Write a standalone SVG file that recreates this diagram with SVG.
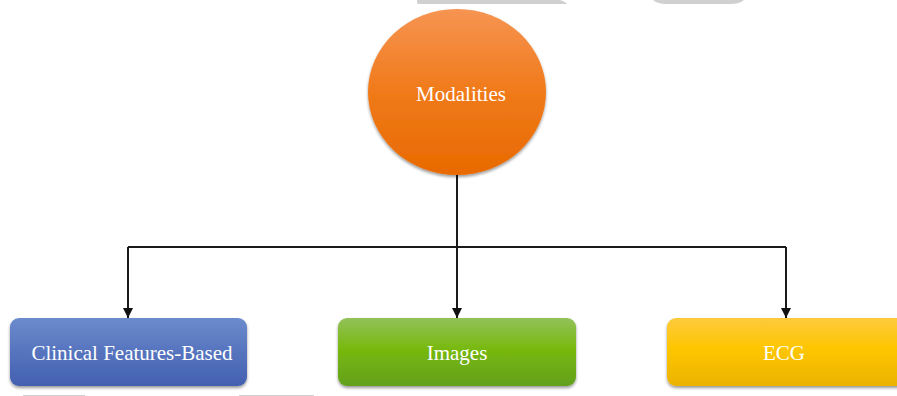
<svg xmlns="http://www.w3.org/2000/svg" width="897" height="396" viewBox="0 0 897 396">
<defs>
<linearGradient id="gOrange" x1="0" y1="0" x2="0" y2="1">
<stop offset="0" stop-color="#f69452"/>
<stop offset="0.5" stop-color="#f07a1a"/>
<stop offset="1" stop-color="#e86a00"/>
</linearGradient>
<linearGradient id="gBlue" x1="0" y1="0" x2="0" y2="1">
<stop offset="0" stop-color="#6c8bcc"/>
<stop offset="0.5" stop-color="#5674be"/>
<stop offset="1" stop-color="#4360b0"/>
</linearGradient>
<linearGradient id="gGreen" x1="0" y1="0" x2="0" y2="1">
<stop offset="0" stop-color="#93c15a"/>
<stop offset="0.45" stop-color="#78b90f"/>
<stop offset="1" stop-color="#63a01c"/>
</linearGradient>
<linearGradient id="gYellow" x1="0" y1="0" x2="0" y2="1">
<stop offset="0" stop-color="#fdca3c"/>
<stop offset="0.45" stop-color="#fec600"/>
<stop offset="1" stop-color="#ebb300"/>
</linearGradient>
<filter id="shadow" x="-10%" y="-10%" width="120%" height="130%">
<feDropShadow dx="0" dy="2" stdDeviation="1.5" flood-color="#000" flood-opacity="0.4"/>
</filter>
<marker id="arrow" viewBox="0 0 10 10" refX="10" refY="5" markerWidth="5.5" markerHeight="5" orient="auto" markerUnits="strokeWidth">
<path d="M0,0 L10,5 L0,10 Z" fill="#111"/>
</marker>
<style>
.lbl{font-family:"Liberation Serif","Times New Roman",serif;font-size:21px;fill:#ffffff;text-anchor:middle}
.conn{fill:none;stroke:#1a1a1a;stroke-width:2}
.frag{fill:#d0d0d0}
.fragline{stroke:#d0d0d0;stroke-width:1.2}
</style>
</defs>
<rect width="897" height="396" fill="#ffffff"/>
<g id="fragments">
<path class="frag" d="M417,0 L560,0 Q566,2 567,4 L419,4 Q417,4 417,2 Z"/>
<path class="frag" d="M653,0 L744,0 Q740,4 730,4 L667,4 Q657,4 653,0 Z"/>
<line class="fragline" x1="23" y1="395.5" x2="85" y2="395.5"/>
<line class="fragline" x1="239" y1="395.5" x2="314" y2="395.5"/>
</g>
<g id="connectors">
<path class="conn" d="M457,175 L457,247"/>
<path class="conn" d="M128,247 L786,247"/>
<path class="conn" d="M128,247 L128,318" marker-end="url(#arrow)"/>
<path class="conn" d="M457,247 L457,318" marker-end="url(#arrow)"/>
<path class="conn" d="M786,247 L786,318" marker-end="url(#arrow)"/>
</g>
<g id="modalities">
<ellipse cx="457" cy="92" rx="89" ry="83" fill="url(#gOrange)" filter="url(#shadow)"/>
<text class="lbl" x="461" y="101">Modalities</text>
</g>
<g id="clinical">
<rect x="10" y="318" width="237" height="68" rx="9" fill="url(#gBlue)" filter="url(#shadow)"/>
<text class="lbl" x="132" y="360">Clinical Features-Based</text>
</g>
<g id="images">
<rect x="338" y="318" width="238" height="68" rx="9" fill="url(#gGreen)" filter="url(#shadow)"/>
<text class="lbl" x="457" y="360">Images</text>
</g>
<g id="ecg">
<rect x="667" y="318" width="245" height="68" rx="9" fill="url(#gYellow)" filter="url(#shadow)"/>
<text class="lbl" x="784" y="360">ECG</text>
</g>
</svg>
